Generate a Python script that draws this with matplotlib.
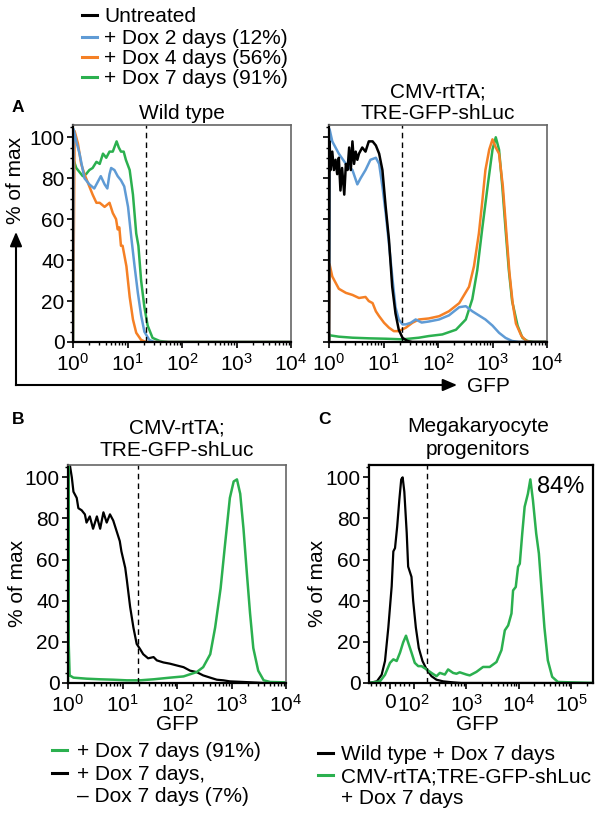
import numpy as np
import matplotlib
matplotlib.use('Agg')
import matplotlib.pyplot as plt
from matplotlib.lines import Line2D
from matplotlib.patches import FancyArrowPatch
from matplotlib.ticker import FixedLocator, LogLocator, MultipleLocator, NullFormatter

plt.rcParams['font.family'] = ['Liberation Sans', 'DejaVu Sans']
plt.rcParams['mathtext.fontset'] = 'custom'
plt.rcParams['mathtext.rm'] = 'Liberation Sans'

# ---------------- data (GFP in decades for A/B, raw GFP for C; y = % of max)
# Panel A, wild type
wt_green_d = [0.00, 0.01, 0.06, 0.12, 0.18, 0.24, 0.30, 0.36, 0.43, 0.49, 0.55, 0.61, 0.67, 0.73, 0.80,
              0.84, 0.88, 0.93, 0.97, 1.04, 1.10, 1.16, 1.20, 1.25, 1.31, 1.37, 1.46, 1.59, 1.75, 4.00]
wt_green_y = [0, 89, 85, 83, 81, 82, 84, 85, 88, 87, 92, 90, 93, 93, 98,
              95, 93, 93, 89, 84, 72, 53, 47, 30, 17, 8, 2, 0.5, 0, 0]
wt_orange_d = [0.00, 0.03, 0.09, 0.15, 0.21, 0.30, 0.36, 0.43, 0.49, 0.58, 0.67, 0.73, 0.79, 0.82, 0.85,
               0.88, 0.91, 0.98, 1.04, 1.10, 1.16, 1.25, 1.34, 4.00]
wt_orange_y = [0, 103, 97, 87, 82, 76, 72, 68, 68, 66, 68, 63, 60, 55, 56,
               47, 47, 37, 22, 11, 4.5, 1, 0, 0]
wt_blue_d = [0.00, 0.01, 0.06, 0.12, 0.21, 0.30, 0.39, 0.45, 0.51, 0.58, 0.63, 0.67, 0.70, 0.76, 0.82,
             0.88, 0.94, 1.01, 1.07, 1.13, 1.19, 1.25, 1.31, 1.40, 1.49, 4.00]
wt_blue_y = [0, 104, 98, 92, 80, 77, 75, 78, 81, 77, 75, 82, 85, 84, 81,
             79, 76, 66, 51, 37, 24, 13, 5, 1, 0, 0]

# Panel A, CMV-rtTA;TRE-GFP-shLuc
tg_black_d = [0.00, 0.01, 0.03, 0.06, 0.09, 0.12, 0.15, 0.18, 0.21, 0.24, 0.28, 0.31, 0.34, 0.37, 0.40,
              0.43, 0.46, 0.49, 0.52, 0.55, 0.61, 0.67, 0.73, 0.80, 0.86, 0.92, 0.98, 1.04, 1.10, 1.16,
              1.22, 1.28, 1.35, 1.44, 1.53, 4.00]
tg_black_y = [0, 98, 84, 93, 84, 89, 82, 90, 74, 85, 72, 87, 84, 95, 84,
              98, 87, 93, 89, 92, 95, 93, 98, 98, 96, 92, 84, 66, 50, 27,
              14, 6, 2, 0.5, 0, 0]
tg_blue_d = [0.00, 0.01, 0.06, 0.18, 0.31, 0.43, 0.52, 0.58, 0.67, 0.76, 0.86, 0.92, 0.98, 1.04, 1.10,
             1.16, 1.22, 1.28, 1.35, 1.41, 1.50, 1.59, 1.70, 1.83, 2.02, 2.20, 2.39, 2.51, 2.63, 2.75,
             2.87, 3.00, 3.12, 3.24, 3.36, 3.48, 4.00]
tg_blue_y = [0, 104, 98, 92, 87, 84, 77, 80, 84, 89, 90, 87, 76, 63, 48,
             32, 17, 11, 8.6, 8.6, 9.4, 11, 9.5, 10, 11, 13, 17, 17.5, 15, 13,
             11, 8, 4.5, 2, 0.5, 0, 0]
tg_orange_d = [0.00, 0.01, 0.06, 0.12, 0.18, 0.31, 0.43, 0.55, 0.67, 0.73, 0.80, 0.86, 0.92, 1.01, 1.10,
               1.19, 1.28, 1.41, 1.53, 1.65, 1.83, 2.02, 2.20, 2.39, 2.57, 2.66, 2.75, 2.81, 2.87, 2.94,
               3.00, 3.06, 3.12, 3.19, 3.25, 3.31, 3.37, 3.43, 3.53, 3.62, 3.72, 4.00]
tg_orange_y = [0, 38, 32, 29, 26, 24, 23, 21.5, 22, 20, 19, 15, 12.6, 9.4, 7,
               5.3, 5.3, 7, 9.4, 11, 11.5, 12.6, 15, 19, 27, 37, 53, 68, 84, 94,
               99, 95, 92, 76, 55, 34, 19, 9, 3, 0.5, 0, 0]
tg_green_d = [0.00, 0.01, 0.03, 0.18, 0.43, 0.73, 1.04, 1.35, 1.65, 1.83, 2.08, 2.33, 2.51, 2.63, 2.72,
              2.81, 2.91, 3.00, 3.06, 3.12, 3.18, 3.24, 3.30, 3.36, 3.46, 3.55, 3.64, 3.75, 4.00]
tg_green_y = [0, 3.7, 3.2, 2.6, 2.1, 1.8, 1.6, 1.3, 2.1, 2.9, 3.7, 6, 11, 21, 35,
              55, 76, 94, 100, 94, 76, 55, 35, 20, 8, 2, 0.5, 0, 0]

# Panel B
b_black_d = [0.02, 0.04, 0.07, 0.10, 0.16, 0.19, 0.25, 0.31, 0.34, 0.40, 0.46, 0.53, 0.59, 0.65, 0.71,
             0.77, 0.83, 0.89, 0.95, 0.98, 1.05, 1.08, 1.14, 1.20, 1.26, 1.32, 1.38, 1.47, 1.57, 1.63,
             1.75, 1.87, 2.00, 2.12, 2.24, 2.36, 2.48, 2.61, 2.73, 2.85, 2.97, 3.22, 3.46, 3.60, 4.00]
b_black_y = [110, 105, 100, 93, 90, 85, 84, 82, 78, 81, 75, 81, 75, 83, 78,
             82, 79, 74, 69, 64, 56, 50, 37, 27, 19, 16.6, 14, 12, 12.6, 11,
             10, 9.4, 8.5, 7.7, 6, 5.3, 3.7, 2.6, 1.6, 1.3, 0.8, 0.5, 0.2, 0, 0]
b_green_d = [0.00, 0.004, 0.012, 0.03, 0.10, 0.34, 0.59, 0.83, 1.08, 1.32, 1.57, 1.87, 2.12, 2.36, 2.48,
             2.61, 2.70, 2.80, 2.88, 2.97, 3.04, 3.10, 3.16, 3.22, 3.28, 3.34, 3.40, 3.49, 3.59, 3.71, 4.00]
b_green_y = [0, 120, 20, 3.7, 2.6, 2.1, 1.8, 1.6, 1.3, 1.3, 1.8, 2.6, 3.2, 5.3, 7.7,
             14, 27, 46, 67, 90, 98, 99, 92, 75, 54, 34, 17, 6, 1.3, 0.5, 0.3]

# Panel C (raw GFP, biexponential axis)
c_black_x = [-88, -55, -35, -21, -7, 7, 14, 21, 30, 39, 47, 53, 60, 70, 76, 90, 97, 109, 124, 146,
             175, 217, 270, 362, 561, 800, 262144]
c_black_y = [0, 0.8, 4, 10.7, 27, 47, 64, 65.6, 76, 89, 99, 100, 93, 73, 56.6, 51.6, 40, 27, 17, 10.7,
             6.6, 3.3, 1.6, 0.8, 0.3, 0, 0]
c_green_x = [-88, -42, -21, 0, 14, 28, 42, 55, 67, 76, 90, 104, 121, 140, 175, 217, 270, 313, 390, 450,
             561, 650, 750, 1010, 1165, 1560, 2090, 2800, 3770, 4700, 5440, 6300, 7290, 7820, 8800, 9740,
             10500, 11700, 13000, 15000, 16700, 18700, 21600, 24300, 27100, 31000, 36000, 43600, 56000,
             262144]
c_green_y = [0, 0.8, 4, 9.8, 11.5, 10.7, 14.8, 19.7, 23, 19.7, 14.8, 9.8, 8.2, 8.2, 6.6, 4.9, 3.3, 4.9,
             4.1, 6.6, 4.9, 4.5, 5.2, 4.1, 3.7, 5.4, 7.8, 7.8, 10.2, 16, 25.6, 28, 33.8, 45, 46.7, 56.5,
             58, 72.7, 85.7, 92, 99, 89, 72.7, 63, 46.7, 27, 11, 3, 0.5, 0]

gate_a = 22
gate_b = 19
gate_c = 180

log_ticks = [1, 10, 100, 1000, 10000]
log_labels = [r'$\mathregular{10^{0}}$', r'$\mathregular{10^{1}}$', r'$\mathregular{10^{2}}$',
              r'$\mathregular{10^{3}}$', r'$\mathregular{10^{4}}$']
c_ticks = [0, 100, 1000, 10000, 100000]
c_labels = ['0', r'$\mathregular{10^{2}}$', r'$\mathregular{10^{3}}$', r'$\mathregular{10^{4}}$',
            r'$\mathregular{10^{5}}$']
y_ticks = [0, 20, 40, 60, 80, 100]

legend_top = ['Untreated', '+ Dox 2 days (12%)', '+ Dox 4 days (56%)', '+ Dox 7 days (91%)']
legend_b = ['+ Dox 7 days (91%)', '+ Dox 7 days,', '\u2013 Dox 7 days (7%)']
legend_c = ['Wild type + Dox 7 days', 'CMV-rtTA;TRE-GFP-shLuc', '+ Dox 7 days']

BLACK = 'black'
BLUE = '#5f9bd5'
ORANGE = '#f58025'
GREEN = '#2bb04f'

FS = 15

# ---------------- figure
W, H = 601, 823
fig = plt.figure(figsize=(W / 100, H / 100), dpi=100)


def fx(x):
    return x / W


def fy(y):
    return 1 - y / H


def label(x, y, s, size=FS, ha='left', weight='normal'):
    # y = middle of the capitals, pixels from top
    base = y + 0.716 * size * 100 / 72 / 2
    fig.text(fx(x), fy(base), s, fontsize=size, ha=ha, va='baseline', fontweight=weight)


def handle(x0, x1, y, color):
    fig.add_artist(Line2D([fx(x0), fx(x1)], [fy(y), fy(y)], color=color, lw=2.2,
                          transform=fig.transFigure))


def style(ax, edge='#666666', edge_lw=1.2):
    ax.set_ylim(0, 106)
    ax.yaxis.set_major_locator(FixedLocator(y_ticks))
    ax.yaxis.set_minor_locator(MultipleLocator(5))
    ax.tick_params(which='both', direction='out', labelsize=FS, width=1.2, colors='black')
    ax.tick_params(which='major', length=4.5)
    ax.tick_params(axis='y', which='major', pad=1.5)
    ax.tick_params(axis='x', which='major', pad=3)
    ax.tick_params(which='minor', length=2.5, width=1)
    for s in ['left', 'bottom']:
        ax.spines[s].set_linewidth(1.6)
    for s in ['top', 'right']:
        ax.spines[s].set_color(edge)
        ax.spines[s].set_linewidth(edge_lw)


def log_x(ax):
    ax.set_xscale('log')
    ax.set_xlim(1, 1e4)
    ax.xaxis.set_major_locator(FixedLocator(log_ticks))
    ax.set_xticklabels(log_labels)
    ax.xaxis.set_minor_locator(LogLocator(subs=np.arange(2, 10), numticks=20))
    ax.xaxis.set_minor_formatter(NullFormatter())


def curve(ax, d, y, color, lw=1.8):
    ax.plot(10 ** np.array(d), y, color=color, lw=lw, solid_joinstyle='round')


dash = (0, (4, 3))

# Panel A left
ax1 = fig.add_axes([fx(73), fy(342), 218 / W, 217 / H])
style(ax1)
log_x(ax1)
curve(ax1, wt_green_d, wt_green_y, GREEN)
curve(ax1, wt_orange_d, wt_orange_y, ORANGE)
curve(ax1, wt_blue_d, wt_blue_y, BLUE)
ax1.axvline(gate_a, color='k', lw=1, ls=dash)

# Panel A right
ax2 = fig.add_axes([fx(329), fy(342), 218 / W, 217 / H])
style(ax2)
log_x(ax2)
ax2.tick_params(axis='y', labelleft=False)
curve(ax2, tg_green_d, tg_green_y, GREEN)
curve(ax2, tg_orange_d, tg_orange_y, ORANGE)
curve(ax2, tg_blue_d, tg_blue_y, BLUE)
curve(ax2, tg_black_d, tg_black_y, BLACK)
ax2.axvline(gate_a, color='k', lw=1, ls=dash)

# Panel B
ax3 = fig.add_axes([fx(68), fy(683), 218 / W, 218 / H])
style(ax3)
log_x(ax3)
curve(ax3, b_black_d, b_black_y, BLACK, lw=1.6)
curve(ax3, b_green_d, b_green_y, GREEN)
ax3.axvline(gate_b, color='k', lw=1, ls=dash)

# Panel C
ax4 = fig.add_axes([fx(369), fy(683), 224 / W, 218 / H])
style(ax4, edge='black', edge_lw=1.6)
ax4.set_xscale('symlog', linthresh=100, linscale=0.41)
ax4.set_xlim(-88, 262144)
ax4.xaxis.set_major_locator(FixedLocator(c_ticks))
ax4.set_xticklabels(c_labels)
minor_c = [-80, -60, -40, -20, 20, 40, 60, 80]
for dec in [100, 1000, 10000]:
    minor_c += [dec * k for k in range(2, 10)]
minor_c += [200000]
ax4.xaxis.set_minor_locator(FixedLocator(minor_c))
ax4.xaxis.set_minor_formatter(NullFormatter())
ax4.plot(c_black_x, c_black_y, color=BLACK, lw=1.6)
ax4.plot(c_green_x, c_green_y, color=GREEN, lw=1.8)
ax4.axvline(gate_c, color='k', lw=1, ls=dash)
label(537, 485, '84%', size=17)

# ---------------- text
label(12, 106, 'A', size=12.5, weight='bold')
label(182, 112, 'Wild type', ha='center')
label(437.5, 90.5, 'CMV-rtTA;', ha='center')
label(437.5, 112, 'TRE-GFP-shLuc', ha='center')

label(12, 418, 'B', size=12.5, weight='bold')
label(177, 426, 'CMV-rtTA;', ha='center')
label(177, 449, 'TRE-GFP-shLuc', ha='center')

label(318, 418, 'C', size=12.5, weight='bold')
label(478, 425, 'Megakaryocyte', ha='center')
label(478, 448, 'progenitors', ha='center')

fig.text(fx(15.5), fy(180), '% of max', fontsize=FS, rotation=90, ha='center', va='center')
fig.text(fx(17.5), fy(583), '% of max', fontsize=FS, rotation=90, ha='center', va='center')
fig.text(fx(317.5), fy(583), '% of max', fontsize=FS, rotation=90, ha='center', va='center')

label(488, 385, 'GFP', ha='center')
label(177, 723, 'GFP', ha='center')
label(477, 723, 'GFP', ha='center')

# axis arrows in panel A
for tip in [(16, 232), (457, 385)]:
    fig.add_artist(FancyArrowPatch((fx(16), fy(385)), (fx(tip[0]), fy(tip[1])),
                                   transform=fig.transFigure, arrowstyle='-|>,head_length=0.7,head_width=0.3',
                                   mutation_scale=12, color='black', lw=1.5, shrinkA=0, shrinkB=0,
                                   capstyle='projecting'))

# legends
top_colors = [BLACK, BLUE, ORANGE, GREEN]
for i, (txt, col) in enumerate(zip(legend_top, top_colors)):
    yy = [15, 36.5, 57, 77][i]
    handle(82, 97, yy, col)
    label(104, yy, txt)

for i, txt in enumerate(legend_b):
    yy = [750, 772.5, 795][i]
    if i == 0:
        handle(52, 67, yy, GREEN)
    elif i == 1:
        handle(52, 67, yy, BLACK)
    label(77, yy, txt)

for i, txt in enumerate(legend_c):
    yy = [753, 775, 797][i]
    if i == 0:
        handle(318, 333, yy, BLACK)
    elif i == 1:
        handle(318, 333, yy, GREEN)
    label(341, yy, txt)

fig.savefig('out.png', dpi=100, facecolor='w')
